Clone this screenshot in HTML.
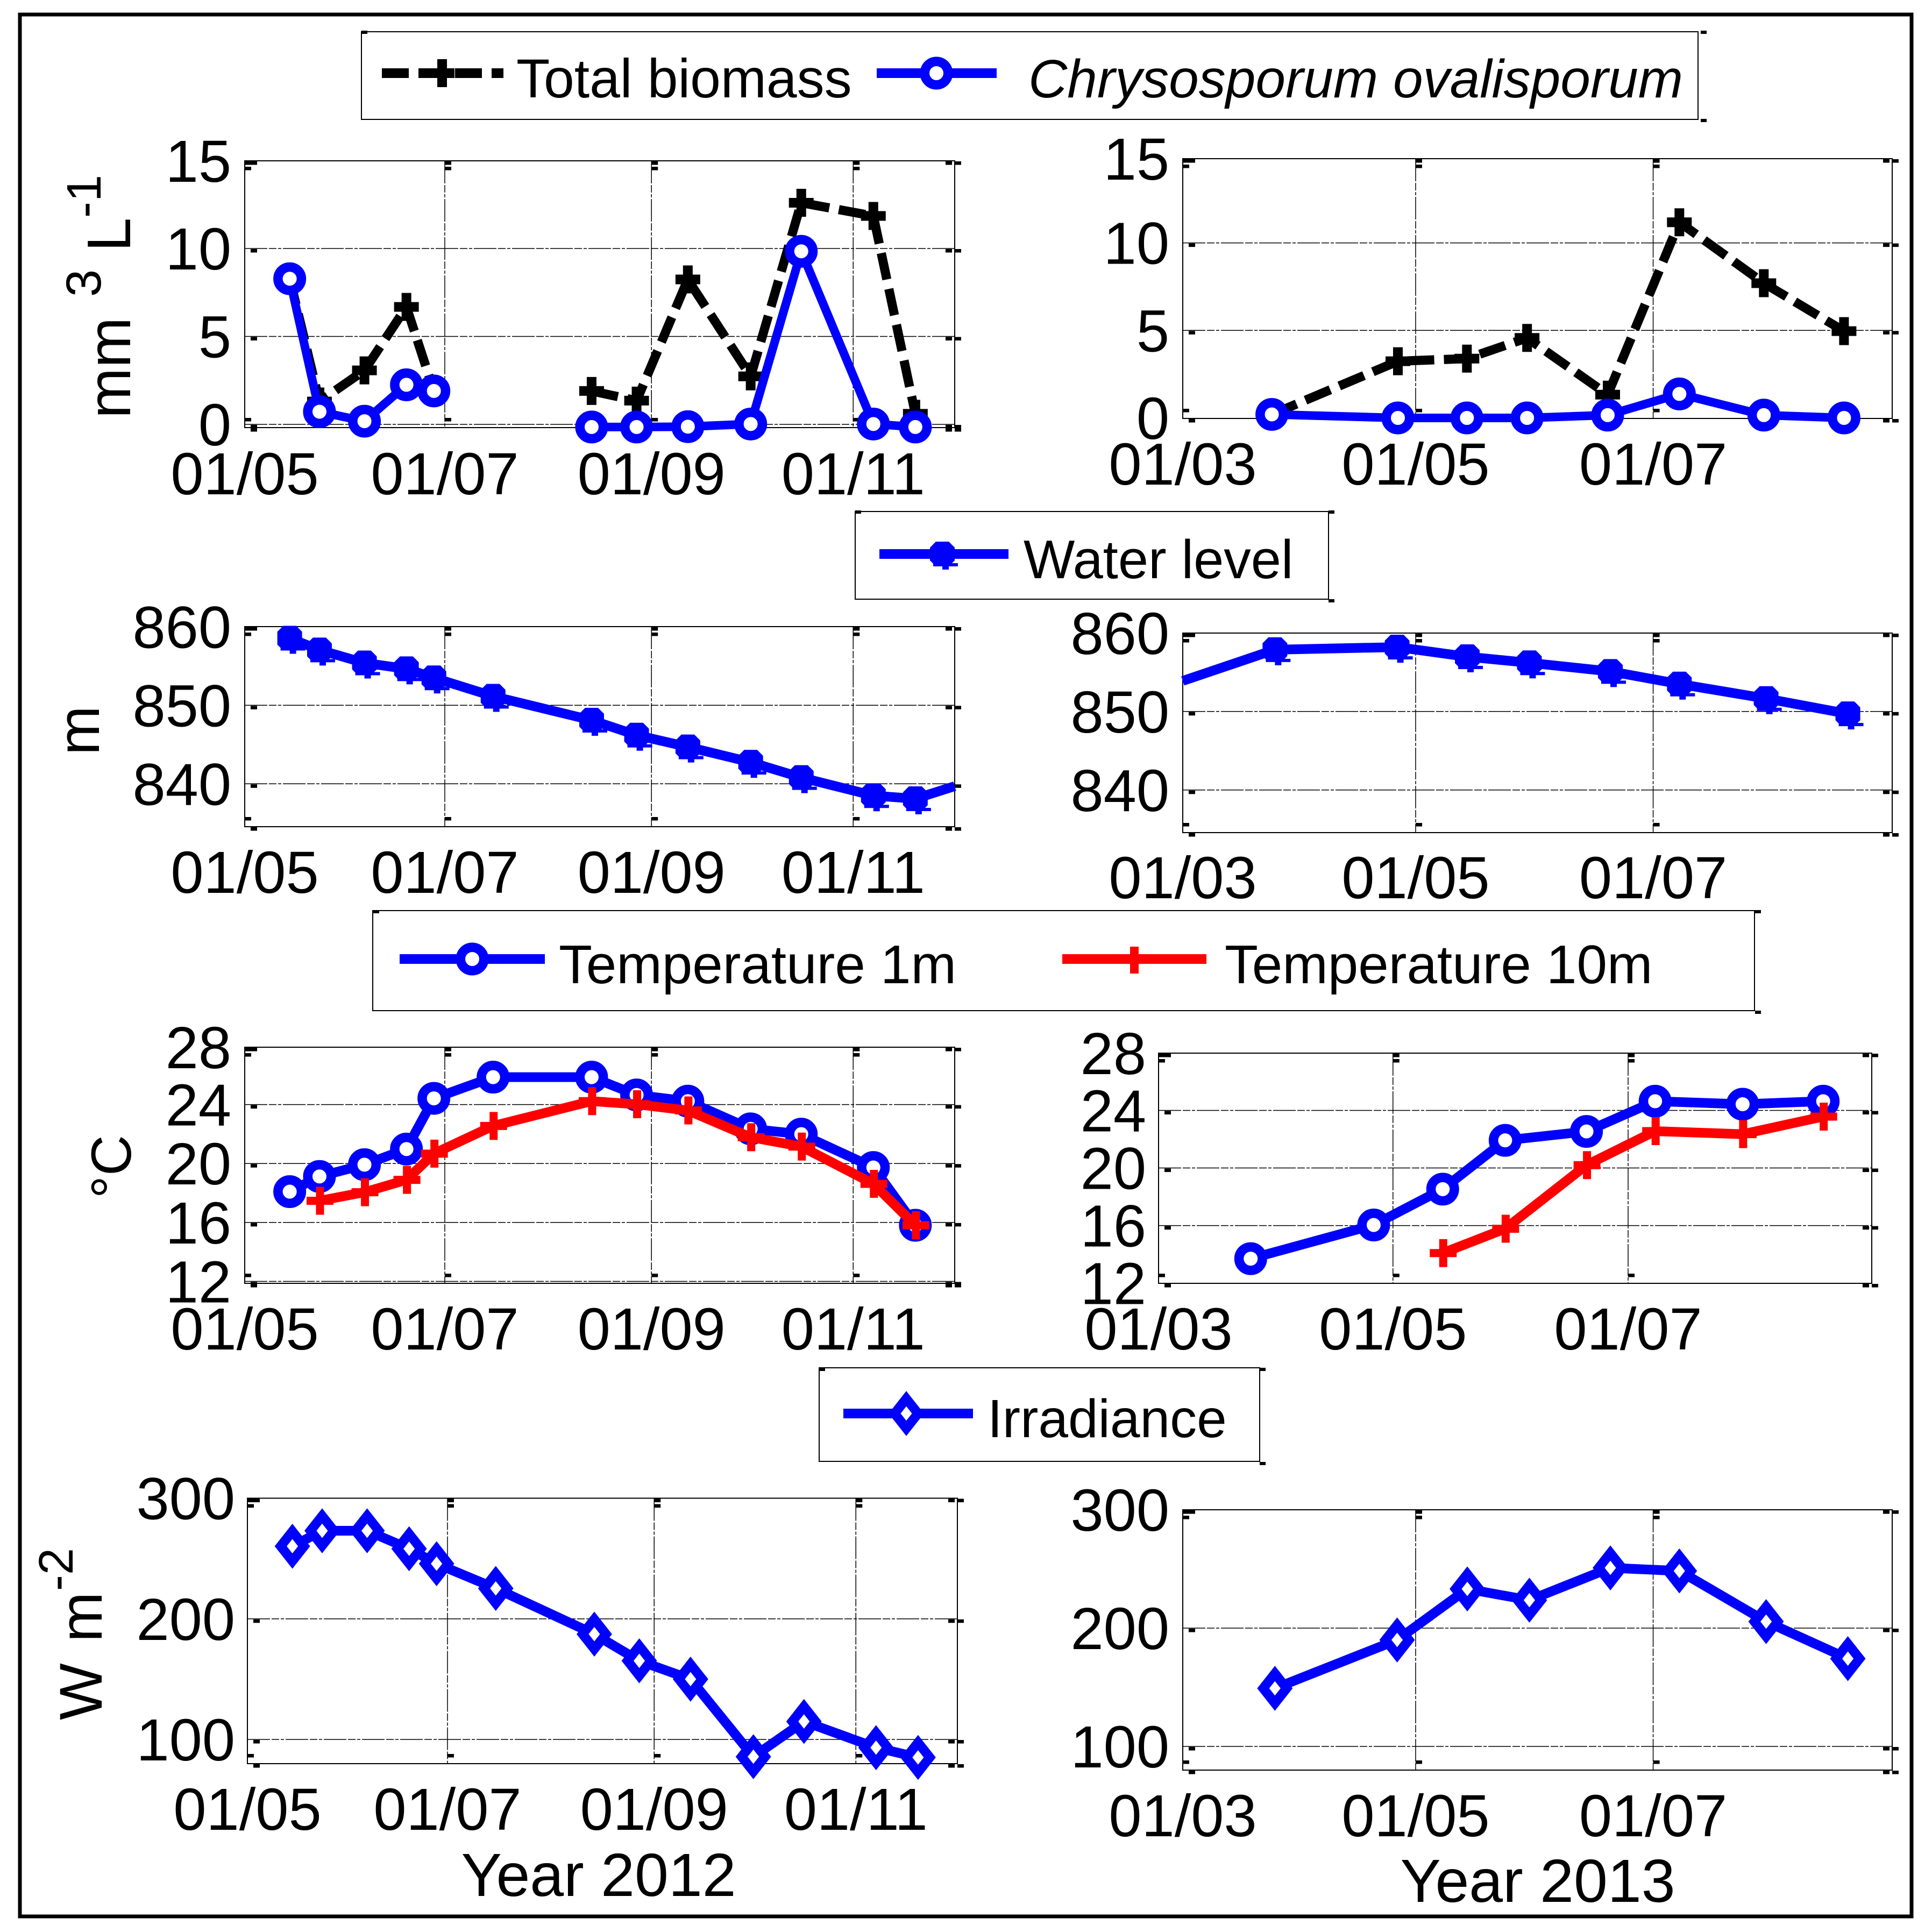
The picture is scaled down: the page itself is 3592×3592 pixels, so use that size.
<!DOCTYPE html>
<html lang="en">
<head>
<meta charset="utf-8">
<title>Biomass, water level, temperature and irradiance, 2012 and 2013</title>
<style>
html,body{margin:0;padding:0;background:#fff}
svg{display:block}
text{font-family:"Liberation Sans",sans-serif;fill:#000}
</style>
</head>
<body>
<svg id="figure" xmlns="http://www.w3.org/2000/svg" width="3592" height="3592" viewBox="0 0 3592 3592">
<rect x="0" y="0" width="3592" height="3592" fill="#fff"/>
<rect x="37" y="27" width="3517" height="3536" fill="none" stroke="#000" stroke-width="7"/>

<g>
<rect x="672" y="59" width="2485" height="163" fill="#fff" stroke="#000" stroke-width="2"/>
<rect x="672" y="57" width="11" height="6"/>
<rect x="3162" y="57" width="11" height="6"/>
<rect x="3162" y="221" width="11" height="6"/>
<line x1="710" y1="136" x2="936" y2="136" stroke="#000" stroke-width="18" stroke-dasharray="50 18"/>
<path d="M822 110V162M799 136H845" stroke="#000" stroke-width="18" fill="none"/>
<text x="960" y="181" font-size="102">Total biomass</text>
<line x1="1630" y1="136" x2="1853" y2="136" stroke="#0000ff" stroke-width="18"/>
<circle cx="1741" cy="136" r="21.75" fill="#fff" stroke="#0000ff" stroke-width="17.5"/>
<text x="1912" y="181" font-size="100" font-style="italic">Chrysosporum ovalisporum</text>
</g>

<g>
<rect x="1590" y="951" width="880" height="163" fill="#fff" stroke="#000" stroke-width="2"/>
<rect x="1590" y="949" width="11" height="6"/>
<rect x="2470" y="949" width="11" height="6"/>
<rect x="2470" y="1114" width="11" height="6"/>
<line x1="1635" y1="1030" x2="1875" y2="1030" stroke="#0000ff" stroke-width="18"/>
<path d="M1740 1007H1764L1775 1018V1042L1764 1053H1740L1729 1042V1018ZM1735 1047h46v6h-46zM1752 1050h12v9h-12z" fill="#0000ff"/>
<text x="1903" y="1075" font-size="101">Water level</text>
</g>

<g>
<rect x="693" y="1693" width="2569" height="186" fill="#fff" stroke="#000" stroke-width="2"/>
<rect x="694" y="1692" width="11" height="6"/>
<rect x="3263" y="1692" width="11" height="6"/>
<rect x="3263" y="1879" width="11" height="6"/>
<line x1="743" y1="1783" x2="1013" y2="1783" stroke="#0000ff" stroke-width="18"/>
<circle cx="878" cy="1783" r="21.75" fill="#fff" stroke="#0000ff" stroke-width="17.5"/>
<text x="1039" y="1828" font-size="101.5">Temperature 1m</text>
<line x1="1975" y1="1783" x2="2243" y2="1783" stroke="#ff0000" stroke-width="18"/>
<path d="M2109 1760V1810" stroke="#ff0000" stroke-width="16" fill="none"/>
<text x="2277" y="1828" font-size="101.5">Temperature 10m</text>
</g>

<g>
<rect x="1523" y="2543" width="819" height="174" fill="#fff" stroke="#000" stroke-width="2"/>
<rect x="1523" y="2543" width="11" height="6"/>
<rect x="2342" y="2543" width="11" height="6"/>
<rect x="2342" y="2718" width="11" height="6"/>
<line x1="1568" y1="2628" x2="1809" y2="2628" stroke="#0000ff" stroke-width="18"/>
<path d="M1685 2600.4L1706.75 2628L1685 2655.6L1663.25 2628Z" fill="#fff" stroke="#0000ff" stroke-width="17.6"/>
<text x="1836" y="2672" font-size="100">Irradiance</text>
</g>

<g>
<text transform="translate(242 778) rotate(-90)" font-size="113">mm</text>
<text transform="translate(187 552) rotate(-90)" font-size="92">3</text>
<text transform="translate(242 468) rotate(-90)" font-size="114">L</text>
<text transform="translate(187 405) rotate(-90)" font-size="90">-1</text>
</g>
<text transform="translate(184 1404) rotate(-90)" font-size="110">m</text>
<text transform="translate(243 2228) rotate(-90)" font-size="105">°C</text>
<g>
<text transform="translate(189 3198) rotate(-90)" font-size="112">W</text>
<text transform="translate(189 3053) rotate(-90)" font-size="112">m</text>
<text transform="translate(135 2958) rotate(-90)" font-size="90">-2</text>
</g>
<text x="1113" y="3525" font-size="113" text-anchor="middle">Year 2012</text>
<text x="2859" y="3536" font-size="113" text-anchor="middle">Year 2013</text>
<g id="panels"></g>
</svg>

<script>
// Sampling dates: days since 1 May 2012 / days since 1 March 2013
const dates2012 = [13.6, 22.6, 36.2, 48.9, 57.2, 75.1, 104.9, 118.5, 134, 153, 168.3, 190.1, 202.8];
const waterDates2012 = [13.6, 22.6, 36.2, 48.9, 57.2, 75.1, 104.9, 118.5, 134, 153, 168.3, 190.1, 202.8, 214.7];
const biomassDates2013 = [23.1, 55.8, 73.7, 89.3, 110.2, 128.8, 150.7, 171.5];
const waterDates2013 = [0, 23.9, 55.6, 73.8, 89.9, 110.9, 128.8, 151.3, 172.5];
const dates2013 = [23.9, 55.6, 73.8, 89.9, 110.9, 128.8, 151.3, 172.5];
const tempDates2013 = [23.9, 55.8, 73.7, 89.9, 111, 128.8, 151.5, 172.4];

// Series values
const totalBiomass2012 = [8.3, 1.3, 3.07, 6.68, 1.9, null, 1.9, 1.35, 8.24, 2.73, 12.6, 11.85, 0.6];
const chrysosporum2012 = [8.28, 0.72, 0.18, 2.25, 1.9, null, -0.15, -0.15, -0.13, 0.02, 9.84, 0.02, -0.15];
const totalBiomass2013 = [0.2, 3.24, 3.39, 4.57, 1.33, 11.18, 7.7, 4.96];
const chrysosporum2013 = [0.2, 0, 0, 0, 0.16, 1.37, 0.16, 0];
const waterLevel2012 = [858.55, 857.05, 855.4, 854.65, 853.5, 851.15, 848.1, 846.2, 844.7, 842.75, 840.8, 838.5, 838.1, 839.7];
const waterLevel2013 = [853.9, 857.87, 858.2, 856.97, 856.2, 855.1, 853.5, 851.65, 849.7];
const temp1m2012 = [18.09, 19.12, 19.92, 20.98, 24.42, 25.86, 25.86, 24.65, 24.23, 22.35, 21.99, 19.73, 15.81];
const temp10m2012 = [null, 17.47, 18.05, 18.89, 20.67, 22.55, 24.23, 24.02, 23.6, 21.78, 21.15, 18.62, 15.81];
const temp1m2013 = [13.7, 16.04, 18.53, 21.92, 22.54, 24.64, 24.43, 24.64];
const temp10m2013 = [null, null, 14.09, 15.78, 20.2, 22.56, 22.35, 23.57];
const irradiance2012 = [260.2, 273, 273, 258.1, 245.7, 225.2, 187.3, 165.2, 150, 85.7, 114.9, 93.2, 85.1];
const irradiance2013 = [149.1, 190, 233.1, 223.6, 250.9, 248.3, 205.5, 174.2];

// Tick values and labels
const xTickDays2012 = [0, 60.5, 123, 184];
const xTickLabels2012 = ['01/05', '01/07', '01/09', '01/11'];
const xTickDays2013 = [0, 60.4, 122];
const xTickDaysTemp2013 = [0, 60.8, 121.8];
const xTickLabels2013 = ['01/03', '01/05', '01/07'];
const biomassTicks = [0, 5, 10, 15];
const waterTicks = [840, 850, 860];
const tempTicks = [12, 16, 20, 24, 28];
const irradianceTicks = [100, 200, 300];

const NS = 'http://www.w3.org/2000/svg';
const root = document.getElementById('panels');

function mk(parent, tag, attrs) {
  const el = document.createElementNS(NS, tag);
  for (const k in attrs) el.setAttribute(k, attrs[k]);
  
  parent.appendChild(el);
  return el;
}

function xScale(p) {
  return d => p.left + d * (p.right - p.left) / p.xMax;
}
function yScale(p) {
  return v => p.yRef + (p.vRef - v) * p.k;
}

function square(g, x, y, w) {
  const el = mk(g, 'rect', {x: x, y: y, width: w || 12, height: 6.5, fill: '#000'});
  
}

const GRID_DASH = '42 3 14 3 6 3';

function drawAxes(p) {
  const X = xScale(p), Y = yScale(p);
  const g = mk(root, 'g', {});
  

  p.yTicks.forEach(v => {
    const py = Math.min(Math.max(Y(v), p.top), p.bottom);
    if (py > p.top + 3 && py < p.bottom - 3) {
      const gl = mk(g, 'line', {x1: p.left, x2: p.right, y1: py, y2: py, stroke: '#000', 'stroke-width': 1.5, 'stroke-dasharray': GRID_DASH});
      
      square(g, p.left + 11, py + 1);
      square(g, p.right - 17, py + 1);
      square(g, p.right, py + 1);
    }
    const t = mk(g, 'text', {x: p.yLabelX, y: py + 39, 'font-size': 110, 'text-anchor': 'end'});
    
    t.textContent = String(v);
  });

  p.xTicks.forEach((d, i) => {
    const px = X(d);
    if (i > 0) {
      const gl = mk(g, 'line', {x1: px, x2: px, y1: p.top, y2: p.bottom, stroke: '#000', 'stroke-width': 1.5, 'stroke-dasharray': GRID_DASH});
      
      square(g, px, p.top + 1);
      square(g, px, p.top + 11);
      square(g, px, p.bottom - 18);
    }
    const t = mk(g, 'text', {x: px, y: p.xLabelY, 'font-size': 110, 'text-anchor': 'middle'});
    
    t.textContent = p.xLabels[i];
  });

  square(g, p.left, p.top + 1, 23);
  square(g, p.left, p.top + 11);
  square(g, p.left, p.bottom - 18);
  square(g, p.left + 11, p.bottom + 1);
  square(g, p.right - 17, p.top + 1);
  square(g, p.right, p.top + 1);
  square(g, p.right - 17, p.bottom + 1);
  square(g, p.right, p.bottom + 1);

  const box = mk(g, 'rect', {x: p.left, y: p.top, width: p.right - p.left, height: p.bottom - p.top, fill: 'none', stroke: '#000', 'stroke-width': 2});
  
}

function drawLine(p, name, dates, values, color, width, dash) {
  const X = xScale(p), Y = yScale(p);
  let d = '', pen = false;
  values.forEach((v, i) => {
    if (v === null) { pen = false; return; }
    d += (pen ? 'L' : 'M') + X(dates[i]).toFixed(1) + ' ' + Y(v).toFixed(1);
    pen = true;
  });
  const attrs = {d: d, fill: 'none', stroke: color, 'stroke-width': width, 'stroke-linejoin': 'miter'};
  if (dash) attrs['stroke-dasharray'] = dash;
  const el = mk(root, 'path', attrs);
  
}

function drawMarkers(p, name, dates, values, kind, color) {
  const X = xScale(p), Y = yScale(p);
  const g = mk(root, 'g', {});
  
  values.forEach((v, i) => {
    if (v === null) return;
    const cx = X(dates[i]), cy = Y(v);
    let el;
    if (kind === 'circle') {
      el = mk(g, 'circle', {cx: cx, cy: cy, r: 21.75, fill: '#fff', stroke: color, 'stroke-width': 17.5});
    } else if (kind === 'plus') {
      el = mk(g, 'path', {d: 'M' + cx + ' ' + (cy - 26) + 'V' + (cy + 26) + 'M' + (cx - 23) + ' ' + cy + 'H' + (cx + 23), fill: 'none', stroke: color, 'stroke-width': 18});
    } else if (kind === 'redplus') {
      el = mk(g, 'path', {d: 'M' + (cx + 1) + ' ' + (cy - 26) + 'V' + (cy + 26) + 'M' + (cx - 24) + ' ' + cy + 'H' + (cx + 26), fill: 'none', stroke: color, 'stroke-width': 15});
    } else if (kind === 'diamond') {
      el = mk(g, 'path', {d: 'M' + cx + ' ' + (cy - 27.6) + 'L' + (cx + 21.75) + ' ' + cy + 'L' + cx + ' ' + (cy + 27.6) + 'L' + (cx - 21.75) + ' ' + cy + 'Z', fill: '#fff', stroke: color, 'stroke-width': 17.6});
    } else {
      el = mk(g, 'path', {d: 'M' + (cx - 12) + ' ' + (cy - 23) + 'H' + (cx + 12) + 'L' + (cx + 23) + ' ' + (cy - 12) + 'V' + (cy + 12) + 'L' + (cx + 12) + ' ' + (cy + 23) + 'H' + (cx - 12) + 'L' + (cx - 23) + ' ' + (cy + 12) + 'V' + (cy - 12) + 'ZM' + (cx - 17) + ' ' + (cy + 17) + 'h46v6h-46zM' + cx + ' ' + (cy + 20) + 'h12v9h-12z', fill: color});
    }
    
  });
}

const panelBiomass2012 = {name: 'biomass-2012', left: 455, right: 1775, top: 299, bottom: 795, xMax: 214.7, yRef: 789, vRef: 0, k: 32.7, yTicks: biomassTicks, xTicks: xTickDays2012, xLabels: xTickLabels2012, yLabelX: 430, xLabelY: 919};
const panelBiomass2013 = {name: 'biomass-2013', left: 2199, right: 3518, top: 295, bottom: 778, xMax: 184, yRef: 777, vRef: 0, k: 32.54, yTicks: biomassTicks, xTicks: xTickDays2013, xLabels: xTickLabels2013, yLabelX: 2174, xLabelY: 901};
const panelWater2012 = {name: 'water-2012', left: 455, right: 1775, top: 1165, bottom: 1537, xMax: 214.7, yRef: 1165.3, vRef: 860, k: 14.6, yTicks: waterTicks, xTicks: xTickDays2012, xLabels: xTickLabels2012, yLabelX: 430, xLabelY: 1660};
const panelWater2013 = {name: 'water-2013', left: 2199, right: 3518, top: 1177, bottom: 1548, xMax: 184, yRef: 1176.8, vRef: 860, k: 14.6, yTicks: waterTicks, xTicks: xTickDays2013, xLabels: xTickLabels2013, yLabelX: 2174, xLabelY: 1670};
const panelTemp2012 = {name: 'temperature-2012', left: 455, right: 1775, top: 1947, bottom: 2386, xMax: 214.7, yRef: 2053.6, vRef: 24, k: 27.4, yTicks: tempTicks, xTicks: xTickDays2012, xLabels: xTickLabels2012, yLabelX: 430, xLabelY: 2509};
const panelTemp2013 = {name: 'temperature-2013', left: 2154, right: 3480, top: 1958, bottom: 2386, xMax: 185, yRef: 2064.5, vRef: 24, k: 26.76, yTicks: tempTicks, xTicks: xTickDaysTemp2013, xLabels: xTickLabels2013, yLabelX: 2131, xLabelY: 2509};
const panelIrr2012 = {name: 'irradiance-2012', left: 460, right: 1780, top: 2785.5, bottom: 3279, xMax: 214.7, yRef: 2785.5, vRef: 300, k: 2.2425, yTicks: irradianceTicks, xTicks: xTickDays2012, xLabels: xTickLabels2012, yLabelX: 437, xLabelY: 3402};
const panelIrr2013 = {name: 'irradiance-2013', left: 2199, right: 3518, top: 2807, bottom: 3291, xMax: 184, yRef: 2807, vRef: 300, k: 2.2, yTicks: irradianceTicks, xTicks: xTickDays2013, xLabels: xTickLabels2013, yLabelX: 2174, xLabelY: 3414};

[panelBiomass2012, panelBiomass2013, panelWater2012, panelWater2013, panelTemp2012, panelTemp2013, panelIrr2012, panelIrr2013].forEach(drawAxes);

const BLUE = '#0000ff', RED = '#ff0000', BLACK = '#000000', DASH = '50 18';

drawLine(panelBiomass2012, 'total-biomass-2012', dates2012, totalBiomass2012, BLACK, 17, DASH);
drawMarkers(panelBiomass2012, 'total-biomass-2012', dates2012, totalBiomass2012, 'plus', BLACK);
drawLine(panelBiomass2012, 'chrysosporum-2012', dates2012, chrysosporum2012, BLUE, 16);
drawMarkers(panelBiomass2012, 'chrysosporum-2012', dates2012, chrysosporum2012, 'circle', BLUE);

drawLine(panelBiomass2013, 'total-biomass-2013', biomassDates2013, totalBiomass2013, BLACK, 17, DASH);
drawMarkers(panelBiomass2013, 'total-biomass-2013', biomassDates2013, totalBiomass2013, 'plus', BLACK);
drawLine(panelBiomass2013, 'chrysosporum-2013', biomassDates2013, chrysosporum2013, BLUE, 16);
drawMarkers(panelBiomass2013, 'chrysosporum-2013', biomassDates2013, chrysosporum2013, 'circle', BLUE);

drawLine(panelWater2012, 'water-level-2012', waterDates2012, waterLevel2012, BLUE, 18);
drawMarkers(panelWater2012, 'water-level-2012', dates2012, waterLevel2012.slice(0, 13), 'blob', BLUE);
drawLine(panelWater2013, 'water-level-2013', waterDates2013, waterLevel2013, BLUE, 18);
drawMarkers(panelWater2013, 'water-level-2013', dates2013, waterLevel2013.slice(1), 'blob', BLUE);

drawLine(panelTemp2012, 'temp-1m-2012', dates2012, temp1m2012, BLUE, 18);
drawMarkers(panelTemp2012, 'temp-1m-2012', dates2012, temp1m2012, 'circle', BLUE);
drawLine(panelTemp2012, 'temp-10m-2012', dates2012, temp10m2012, RED, 18);
drawMarkers(panelTemp2012, 'temp-10m-2012', dates2012, temp10m2012, 'redplus', RED);

drawLine(panelTemp2013, 'temp-1m-2013', tempDates2013, temp1m2013, BLUE, 18);
drawMarkers(panelTemp2013, 'temp-1m-2013', tempDates2013, temp1m2013, 'circle', BLUE);
drawLine(panelTemp2013, 'temp-10m-2013', tempDates2013, temp10m2013, RED, 18);
drawMarkers(panelTemp2013, 'temp-10m-2013', tempDates2013, temp10m2013, 'redplus', RED);

drawLine(panelIrr2012, 'irradiance-2012', dates2012, irradiance2012, BLUE, 18);
drawMarkers(panelIrr2012, 'irradiance-2012', dates2012, irradiance2012, 'diamond', BLUE);
drawLine(panelIrr2013, 'irradiance-2013', dates2013, irradiance2013, BLUE, 18);
drawMarkers(panelIrr2013, 'irradiance-2013', dates2013, irradiance2013, 'diamond', BLUE);
</script>
</body>
</html>
